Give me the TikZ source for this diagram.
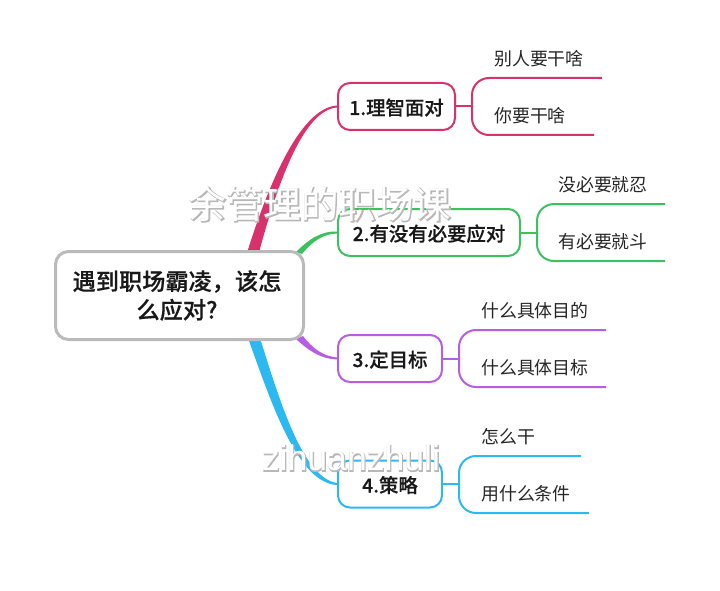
\documentclass[tikz,border=0pt]{standalone}
\usepackage{fontspec}
\setmainfont{Noto Sans CJK SC}
\newfontfamily\cjkmid[FakeBold=0.4]{Noto Sans CJK SC Medium}
\newfontfamily\cjkfat[FakeBold=3.5]{Noto Sans CJK SC}
\newfontfamily\wmlatin{Liberation Sans}
\newfontfamily\wmlatinfat[FakeBold=3.5]{Liberation Sans}
\usetikzlibrary{calc}
\usetikzlibrary{backgrounds}
\definecolor{mapred}{HTML}{D9316C}
\definecolor{mapgreen}{HTML}{3BC160}
\definecolor{mappurple}{HTML}{B65DE6}
\definecolor{mapblue}{HTML}{2CB8F0}
\definecolor{mapgray}{HTML}{BABABA}
\newcommand{\fs}[1]{\fontsize{#1}{#1}\selectfont}
\newcommand{\wmcn}{\fs{37.5}余管理的职场课}
\newcommand{\wmen}{\fs{35.6}zihuanzhuli}
\newcommand{\tp}[1]{\raisebox{-8.5pt}[6pt][6pt]{#1}}
\tikzset{
	rootbox/.style={draw=mapgray,line width=3pt,fill=white,rounded corners=13pt,minimum width=248pt,minimum height=88pt,align=center,inner sep=0pt,text=black!90},
	topicbox/.style={draw=#1,line width=2pt,fill=white,rounded corners=12pt,minimum height=47pt,inner sep=0pt,font=\cjkmid\fs{19.4},text=black!90},
	leaflabel/.style={inner sep=0pt,anchor=west,font=\fs{17.9},text=black!85},
	leafline/.style={draw=#1,line width=2pt,rounded corners=17pt},
	stem/.style={draw=#1,line width=2pt},
	wmshadow/.style={inner sep=0pt,text=black!28},
	wmtext/.style={inner sep=0pt,text=white},
}
\begin{document}
\begin{tikzpicture}[x=1pt,y=-1pt]
	\useasboundingbox (0,0) rectangle (720,591);
	\node[rootbox] (root) at (179.5,295.5) {\hspace{-5pt}\cjkmid\fs{23.2}遇到职场霸凌，该怎\\[5pt]\hspace{-5pt}\cjkmid\fs{23.2}么应对?};
	\node[topicbox=mapred,minimum width=117pt] (n1) at (396.5,106.5) {\tp{1.理智面对}};
	\node[topicbox=mapgreen,minimum width=182pt] (n2) at (429,232.5) {\tp{2.有没有必要应对}};
	\node[topicbox=mappurple,minimum width=104pt] (n3) at (390,358.5) {\tp{3.定目标}};
	\node[topicbox=mapblue,minimum width=104pt] (n4) at (390,484) {\tp{4.策略}};
	% leaves
	\node[leaflabel] (l1a) at (494,59) {别人要干啥};
	\node[leaflabel] (l1b) at (494,116) {你要干啥};
	\node[leaflabel] (l2a) at (558,185) {没必要就忍};
	\node[leaflabel] (l2b) at (558,242) {有必要就斗};
	\node[leaflabel] (l3a) at (481,311) {什么具体目的};
	\node[leaflabel] (l3b) at (481,368) {什么具体目标};
	\node[leaflabel] (l4a) at (481,437) {怎么干};
	\node[leaflabel] (l4b) at (481,494) {用什么条件};
	\coordinate (e1a) at (602,78);
	\coordinate (e1b) at (594,135);
	\coordinate (e2a) at (665,204);
	\coordinate (e2b) at (665,261);
	\coordinate (e3a) at (606,330);
	\coordinate (e3b) at (606,387);
	\coordinate (e4a) at (581,456);
	\coordinate (e4b) at (589,513);
	\coordinate (j1) at ($ (n1.east) + (16,0) $);
	\coordinate (j2) at ($ (n2.east) + (16,0) $);
	\coordinate (j3) at ($ (n3.east) + (16,0) $);
	\coordinate (j4) at ($ (n4.east) + (16,0) $);
	\draw[stem=mapred] (n1.east) -- (j1);
	\draw[stem=mapgreen] (n2.east) -- (j2);
	\draw[stem=mappurple] (n3.east) -- (j3);
	\draw[stem=mapblue] (n4.east) -- (j4);
	\draw[leafline=mapred] (e1a) -- (j1 |- e1a) -- (j1 |- e1b) -- (e1b);
	\draw[leafline=mapgreen] (e2a) -- (j2 |- e2a) -- (j2 |- e2b) -- (e2b);
	\draw[leafline=mappurple] (e3a) -- (j3 |- e3a) -- (j3 |- e3b) -- (e3b);
	\draw[leafline=mapblue] (e4a) -- (j4 |- e4a) -- (j4 |- e4b) -- (e4b);
	% tapered branches
	\begin{scope}[on background layer]
		\fill[mapred] (246,256) .. controls (268,185) and (300,108) .. ($ (n1.west) + (0,-1) $) -- ($ (n1.west) + (0,1) $) .. controls (303,110) and (277,185) .. (258,256) -- cycle;
		\fill[mapgreen] (296,252) .. controls (310,238) and (322,231) .. ($ (n2.west) + (0,-1) $) -- ($ (n2.west) + (0,1) $) .. controls (323,234) and (313,241) .. (302,254) -- cycle;
		\fill[mappurple] (296,339) .. controls (310,352) and (322,359) .. ($ (n3.west) + (0,1) $) -- ($ (n3.west) + (0,-1) $) .. controls (323,356) and (313,349) .. (303,336) -- cycle;
		\fill[mapblue] (248,338) .. controls (272,405) and (298,483) .. ($ (n4.west) + (0,1) $) -- ($ (n4.west) + (0,-1) $) .. controls (303,478) and (280,402) .. (260,338) -- cycle;
	\end{scope}
	% watermarks
	\node[wmshadow] (ws1) at (320.5,204.5) {\cjkfat\wmcn};
	\node[wmshadow] (ws2) at (351.5,458.5) {\wmlatinfat\wmen};
	\node[wmtext] (wm1) at (320,204) {\wmcn};
	\node[wmtext] (wm2) at (351,458) {\wmlatin\wmen};
\end{tikzpicture}
\end{document}
